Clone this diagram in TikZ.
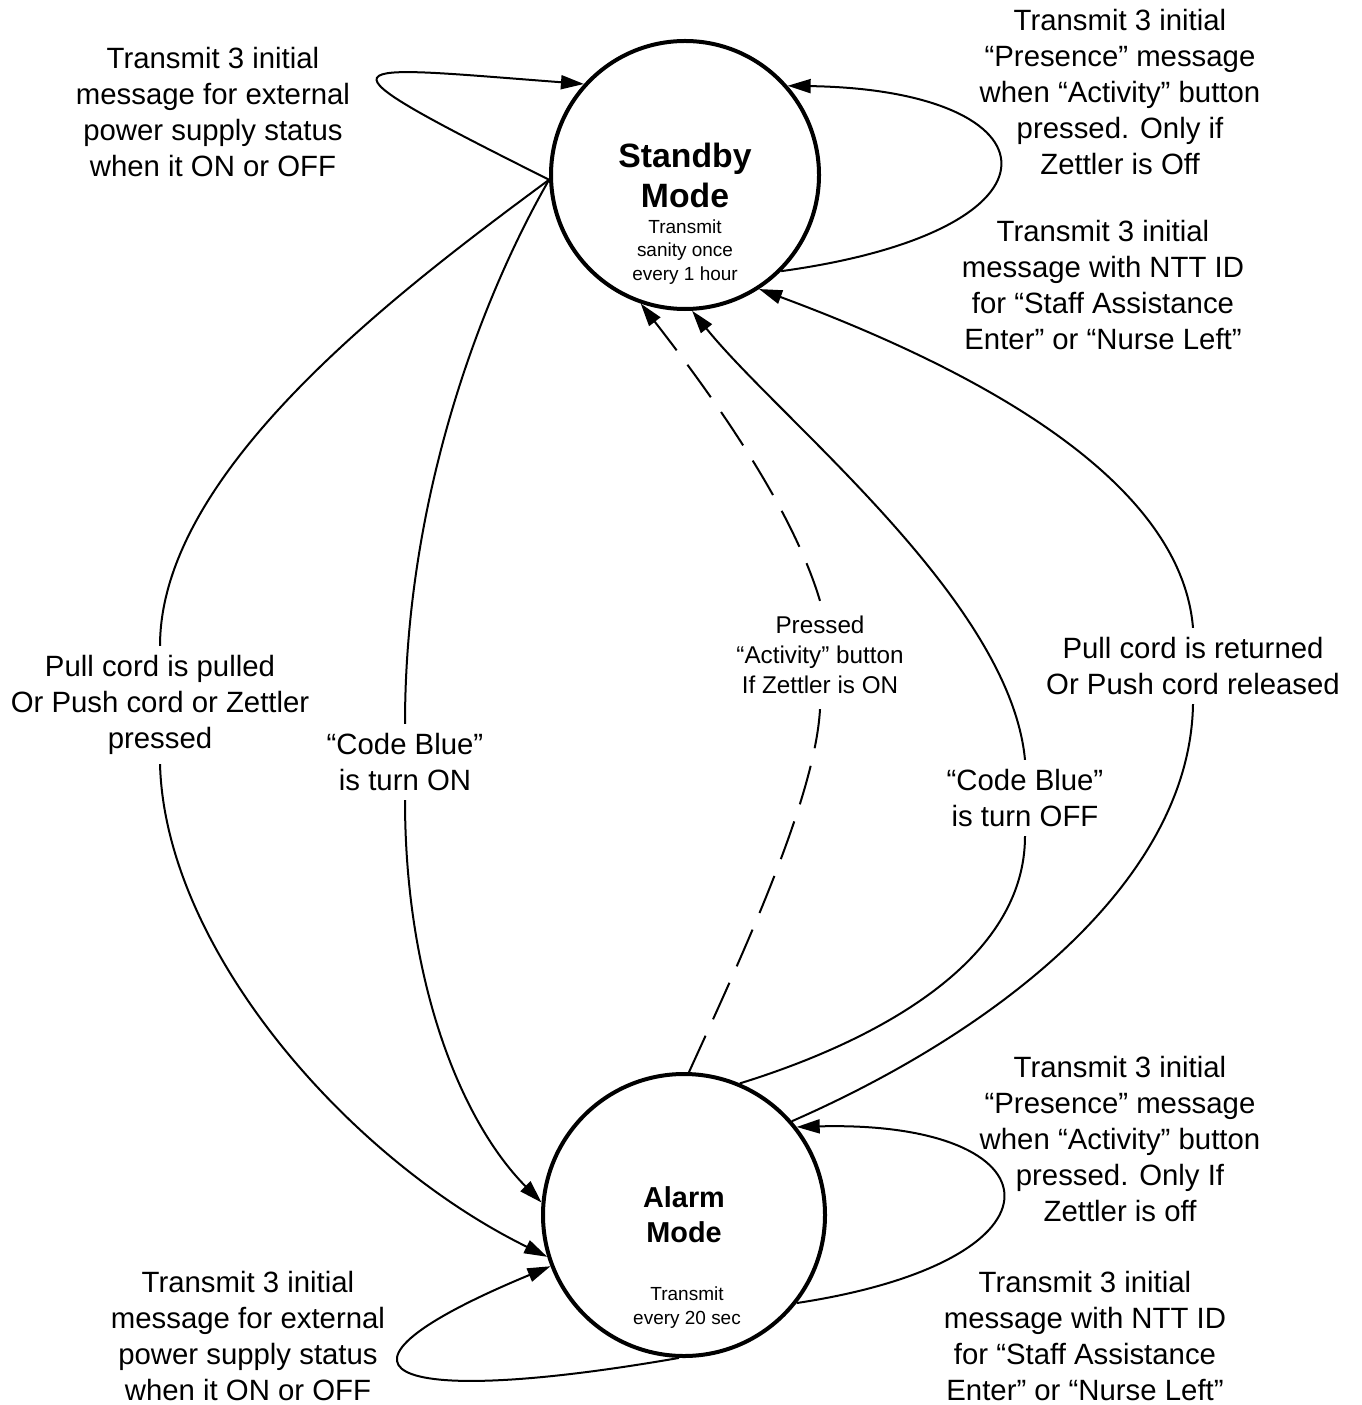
\documentclass[tikz,border=0pt]{standalone}
\usepackage{fontspec}
\setmainfont{Liberation Sans}
\usetikzlibrary{arrows.meta}

\begin{document}
\begin{tikzpicture}[x=0.2mm, y=-0.2mm,
  every node/.style = {align=center, font=\fontsize{16.7}{20.5}\selectfont},
  mode/.style = {shape=circle, draw, line width=0.8mm, inner sep=0pt},
  note/.style = {font=\fontsize{10.8}{13.6}\selectfont},
  cond/.style = {inner sep=1.8mm},
  link/.style = {line width=0.4mm},
  trans/.style = {link, -{Triangle[length=4.6mm, width=2.8mm]}},
  longdash/.style = {dash pattern=on 8mm off 3.6mm}]
  \useasboundingbox (0,0) rectangle (1361,1405);

  \node [mode, minimum size=53.6mm, font=\bfseries\fontsize{19.2}{22.7}\selectfont]
    (standby) at (685,175) {Standby\\Mode};
  \node [mode, minimum size=56.4mm, font=\bfseries\fontsize{16.4}{19.8}\selectfont]
    (alarm) at (684,1215) {Alarm\\Mode};
  \node [note] (standbynote) at (685,252) {Transmit\\sanity once\\every 1 hour};
  \node [note] (alarmnote) at (687,1308) {Transmit\\every 20 sec};

  \node (sbpower) at (213,112) {Transmit 3 initial\\message for external\\power supply status\\when it ON or OFF};
  \node (sbpresence) at (1120,92) {Transmit 3 initial\\“Presence” message\\when “Activity” button\\pressed. Only if\\Zettler is Off};
  \node (sbstaff) at (1103,285) {Transmit 3 initial\\message with NTT ID\\for “Staff Assistance\\Enter” or “Nurse Left”};
  \node (alpresence) at (1120,1139) {Transmit 3 initial\\“Presence” message\\when “Activity” button\\pressed. Only If\\Zettler is off};
  \node (alstaff) at (1085,1336) {Transmit 3 initial\\message with NTT ID\\for “Staff Assistance\\Enter” or “Nurse Left”};
  \node (alpower) at (248,1336) {Transmit 3 initial\\message for external\\power supply status\\when it ON or OFF};

  \node [cond] (pulledlbl) at (160,705) {Pull cord is pulled\\Or Push cord or Zettler\\pressed};
  \node [cond] (cbonlbl) at (405,762) {“Code Blue”\\is turn ON};
  \node [cond, inner sep=3mm, font=\fontsize{13.8}{17}\selectfont]
    (activitylbl) at (820,655) {Pressed\\“Activity” button\\If Zettler is ON};
  \node [cond] (cbofflbl) at (1025,798) {“Code Blue”\\is turn OFF};
  \node [cond] (returnedlbl) at (1193,666) {Pull cord is returned\\Or Push cord released};

  \draw [trans] (standby.182) .. controls (300,55) and (335,65) .. (standby.138);
  \draw [trans] (standby.-45) .. controls (1080,230) and (1060,90) .. (standby.41);
  \draw [trans] (alarm.-38) .. controls (1080,1260) and (1060,1120) .. (alarm.38);
  \draw [trans] (alarm.268) .. controls (380,1410) and (300,1370) .. (alarm.201);

  \draw [link] (standby.182) .. controls (400,290) and (160,470) .. (pulledlbl.north);
  \draw [trans] (pulledlbl.south) .. controls (165,950) and (350,1160) .. (alarm.197);
  \draw [link] (standby.182) .. controls (480,300) and (405,500) .. (cbonlbl.north);
  \draw [trans] (cbonlbl.south) .. controls (405,980) and (460,1120) .. (alarm.175);

  \draw [link, longdash] (alarm.88) .. controls (740,960) and (815,800) .. (activitylbl.south);
  \draw [trans, longdash] (activitylbl.north) .. controls (790,500) and (700,380) .. (standby.251);
  \draw [link] (alarm.67) .. controls (880,1040) and (1025,960) .. (cbofflbl.south);
  \draw [trans] (cbofflbl.north) .. controls (1010,600) and (780,420) .. (standby.273);
  \draw [link] (alarm.41) .. controls (1000,1030) and (1190,880) .. (returnedlbl.south);
  \draw [trans] (returnedlbl.north) .. controls (1180,470) and (950,360) .. (standby.303);
\end{tikzpicture}
\end{document}
